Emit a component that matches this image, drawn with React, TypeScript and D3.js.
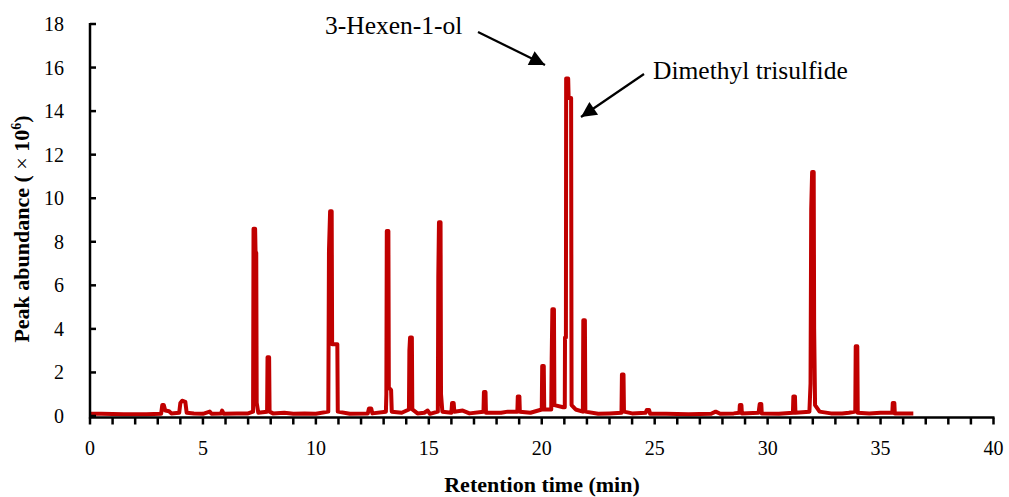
import React from "react";
import * as d3 from "d3";

// Chromatogram trace (retention time in min, abundance ×10^6)
const retentionTimes = [
  0, 0.5, 1.5, 2.5, 3.15, 3.2, 3.27, 3.33, 3.5, 3.6, 3.95, 4.0, 4.08, 4.22, 4.28, 4.6, 5.0, 5.3, 5.38, 5.8,
  5.85, 5.92, 6.5, 7.0, 7.22, 7.24, 7.31, 7.33, 7.36, 7.38, 7.45, 7.84, 7.86, 7.93, 7.95, 8.1, 8.6, 9.0, 9.5,
  10.0, 10.55, 10.58, 10.63, 10.7, 10.72, 10.95, 10.97, 11.5, 12.3, 12.35, 12.45, 12.5, 13.1, 13.12, 13.14,
  13.21, 13.23, 13.33, 13.36, 13.8, 14.12, 14.14, 14.17, 14.25, 14.27, 14.5, 14.8, 14.95, 15.05, 15.4, 15.42,
  15.45, 15.52, 15.54, 15.6, 16.0, 16.03, 16.1, 16.13, 16.5, 16.8, 17.42, 17.44, 17.51, 17.53, 18.2, 18.5,
  18.92, 18.94, 19.01, 19.03, 19.5, 20.0, 20.02, 20.09, 20.11, 20.42, 20.44, 20.47, 20.54, 20.56, 20.95,
  21.02, 21.03, 21.07, 21.08, 21.17, 21.19, 21.3, 21.32, 21.5, 21.82, 21.84, 21.91, 21.93, 22.5, 23.0, 23.53,
  23.55, 23.62, 23.64, 24.0, 24.6, 24.65, 24.75, 24.8, 25.5, 26.5, 27.5, 27.7, 27.9, 28.5, 28.75, 28.77,
  28.84, 28.86, 29.6, 29.65, 29.72, 29.74, 30.5, 31.12, 31.14, 31.21, 31.23, 31.85, 31.9, 31.93, 31.97,
  32.04, 32.06, 32.1, 32.3, 32.8, 33.3, 33.6, 33.88, 33.9, 33.97, 33.99, 34.5, 35.0, 35.52, 35.54, 35.61,
  35.63, 36.0, 36.45,
];
const abundances = [
  0.1, 0.1, 0.08, 0.08, 0.1, 0.5, 0.5, 0.25, 0.22, 0.12, 0.15, 0.6, 0.7, 0.65, 0.15, 0.12, 0.1, 0.2, 0.1, 0.12,
  0.25, 0.1, 0.12, 0.12, 0.2, 8.6, 8.6, 7.5, 7.5, 0.6, 0.15, 0.2, 2.7, 2.7, 0.2, 0.12, 0.15, 0.1, 0.12,
  0.1, 0.2, 7.6, 9.4, 9.4, 3.3, 3.3, 0.2, 0.1, 0.12, 0.35, 0.35, 0.12, 0.2, 1.0, 8.5,
  8.5, 1.3, 1.2, 0.2, 0.15, 0.3, 3.0, 3.6, 3.6, 0.3, 0.12, 0.15, 0.25, 0.1, 0.2, 6.4,
  8.9, 8.9, 1.0, 0.2, 0.15, 0.6, 0.6, 0.2, 0.25, 0.12, 0.2, 1.1, 1.1, 0.15, 0.15, 0.2,
  0.2, 0.9, 0.9, 0.2, 0.15, 0.3, 2.3, 2.3, 0.3, 0.3, 2.6, 4.9, 4.9, 0.5, 0.4,
  0.4, 3.6, 3.6, 15.5, 15.5, 14.6, 14.6, 0.5, 0.3, 0.2, 4.4, 4.4, 0.2, 0.1, 0.12, 0.15,
  1.9, 1.9, 0.2, 0.12, 0.15, 0.28, 0.28, 0.1, 0.1, 0.08, 0.1, 0.2, 0.1, 0.12, 0.15, 0.5,
  0.5, 0.12, 0.15, 0.55, 0.55, 0.12, 0.1, 0.15, 0.9, 0.9, 0.15, 0.2, 1.5, 9.5, 11.2,
  11.2, 4.0, 0.5, 0.2, 0.12, 0.12, 0.15, 0.2, 3.2, 3.2, 0.15, 0.12, 0.15, 0.15, 0.6, 0.6,
  0.12, 0.12, 0.12,
];

const xMajorTicks = [0, 5, 10, 15, 20, 25, 30, 35, 40];
const xMinorTicks = d3.range(0, 41, 1);
const yTicks = [0, 2, 4, 6, 8, 10, 12, 14, 16, 18];

const annotationLabels = ["3-Hexen-1-ol", "Dimethyl trisulfide"];

const W = 1009;
const H = 497;
const FONT = "'Liberation Serif', 'Times New Roman', serif";
const RED = "#c00000";

export default function App() {
  const x = d3.scaleLinear().domain([0, 40]).range([90, 993.5]);
  const y = d3.scaleLinear().domain([0, 18]).range([416, 24]);

  const pts = retentionTimes.map((t, i) => [t, abundances[i]] as [number, number]);
  const line = d3
    .line<[number, number]>()
    .x((d) => x(d[0]))
    .y((d) => y(d[1]));

  const axisY = y(0) + 1.5;

  return (
    <svg
      width={W}
      height={H}
      style={{ position: "absolute", left: 0, top: 0, background: "#fff" }}
      fontFamily={FONT}
    >
      <defs>
        <marker
          id="ah"
          viewBox="0 0 10 10"
          refX="10"
          refY="5"
          markerWidth="9"
          markerHeight="7"
          markerUnits="strokeWidth"
          orient="auto"
        >
          <path d="M0,0 L10,5 L0,10 z" fill="#000" />
        </marker>
      </defs>

      {/* trace */}
      <path
        d={line(pts) || ""}
        fill="none"
        stroke={RED}
        strokeWidth={4}
        strokeLinejoin="round"
      />

      {/* axes */}
      <line x1={x(0)} x2={x(0)} y1={y(18) - 1} y2={axisY + 1} stroke="#000" strokeWidth={2.5} />
      <line x1={x(0) - 1} x2={x(40) + 1} y1={axisY} y2={axisY} stroke="#000" strokeWidth={2.5} />
      {yTicks.map((v) => (
        <g key={"y" + v}>
          <line x1={x(0)} x2={x(0) + 6} y1={y(v)} y2={y(v)} stroke="#000" strokeWidth={2.5} />
          <text x={64} y={y(v)} dy="0.35em" textAnchor="end" fontSize={20} fill="#000">
            {v}
          </text>
        </g>
      ))}
      {xMinorTicks.map((v) => (
        <line key={"xm" + v} x1={x(v)} x2={x(v)} y1={axisY} y2={axisY + 7} stroke="#000" strokeWidth={2.5} />
      ))}
      {xMajorTicks.map((v) => (
        <text key={"x" + v} x={x(v)} y={455} textAnchor="middle" fontSize={20} fill="#000">
          {v}
        </text>
      ))}

      {/* axis titles */}
      <text x={542} y={492} textAnchor="middle" fontSize={22} fontWeight="bold" fill="#000">
        Retention time (min)
      </text>
      <text
        transform={`translate(29,229) rotate(-90)`}
        textAnchor="middle"
        fontSize={22}
        fontWeight="bold"
        fill="#000"
      >
        Peak abundance ({" "}
        <tspan fontWeight="normal">×</tspan> 10
        <tspan dy={-8} fontSize={14}>6</tspan>
        <tspan dy={8}>)</tspan>
      </text>

      {/* annotations */}
      <text x={325} y={34} fontSize={25.5} fill="#000">
        {annotationLabels[0]}
      </text>
      <line x1={478} y1={32} x2={545} y2={65} stroke="#000" strokeWidth={2.2} markerEnd="url(#ah)" />
      <text x={653} y={79} fontSize={25.5} fill="#000">
        {annotationLabels[1]}
      </text>
      <line x1={644} y1={74} x2={581} y2={117} stroke="#000" strokeWidth={2.2} markerEnd="url(#ah)" />
    </svg>
  );
}
